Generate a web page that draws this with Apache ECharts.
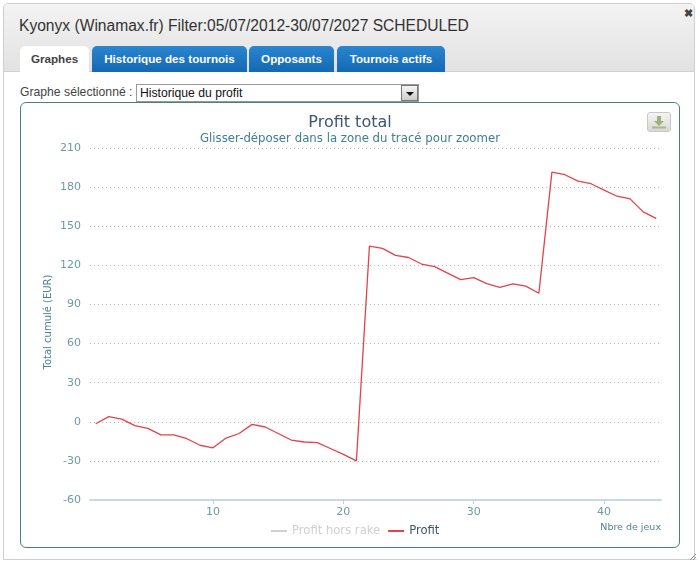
<!DOCTYPE html>
<html><head><meta charset="utf-8">
<script src="https://cdn.jsdelivr.net/npm/echarts@6/dist/echarts.min.js"></script>
<style>
html,body{margin:0;padding:0;background:#fff;width:700px;height:566px;overflow:hidden;font-family:"Liberation Sans",Arial,sans-serif}
.abs{position:absolute;box-sizing:border-box}
#dialog{left:3px;top:3px;width:692px;height:557px;border:1px solid #cfcfcf;border-radius:5px 5px 0 0;background:#fff}
#head{left:4px;top:4px;width:690px;height:68px;background:linear-gradient(#f3f3f3,#e2e2e2);border-bottom:1px solid #d2d2d2;border-radius:4px 4px 0 0}
#title{left:19px;top:16px;font-size:15.6px;color:#333;white-space:nowrap;line-height:19px}
.tab{top:46px;height:26px;border-radius:5px 5px 0 0;text-align:center;font-weight:bold;font-size:11.65px;line-height:26px;color:#fff;background:linear-gradient(#2a85cf,#1468b4);white-space:nowrap}
#t0{left:20px;width:69px;background:#fff;color:#444;height:27px}
#t1{left:92px;width:155px}#t2{left:249px;width:85px}#t3{left:337px;width:108px}
#lab{left:20px;top:85px;font-size:12.2px;color:#444;line-height:15px;white-space:nowrap}
#sel{left:136px;top:84px;width:283px;height:18px;border:1px solid #999;background:#fff;font-size:12.2px;line-height:16px;padding-left:3px;color:#111}
#arrow{left:401px;top:85px;width:17px;height:16px;border:1px solid #777;background:linear-gradient(#f4f4f4,#ccc)}
#arrow:after{content:"";position:absolute;left:4px;top:6px;border:4px solid transparent;border-top:4px solid #111}
#panel{left:20px;top:102px;width:660px;height:446px;border:1px solid #4a7f8a;border-radius:6px;background:#fff}
#chart{left:21px;top:103px;width:658px;height:444px}
#dl{left:647px;top:112px;width:24px;height:20px;border:1px solid #c8c8c8;border-radius:3px;background:linear-gradient(#f4f4f4,#d8d8d8)}
#x{left:684px;top:7px;font-size:11px;font-weight:bold;color:#444;line-height:13px}
</style></head><body>
<div class="abs" id="dialog"></div>
<div class="abs" id="head"></div>
<div class="abs" id="title">Kyonyx (Winamax.fr) Filter:05/07/2012-30/07/2027 SCHEDULED</div>
<div class="abs" id="x">✖</div>
<div class="abs tab" id="t0">Graphes</div>
<div class="abs tab" id="t1">Historique des tournois</div>
<div class="abs tab" id="t2">Opposants</div>
<div class="abs tab" id="t3">Tournois actifs</div>
<div class="abs" id="lab">Graphe sélectionné :</div>
<div class="abs" id="sel">Historique du profit</div>
<div class="abs" id="arrow"></div>
<div class="abs" id="panel"></div>
<div class="abs" id="chart"></div>
<div class="abs" id="dl"><svg width="22" height="18" viewBox="0 0 22 18"><path d="M9 3h4v5h3l-5 5-5-5h3z" fill="#9fb07f"/><rect x="4" y="13.5" width="14" height="2" fill="#a9b88c"/></svg></div>
<svg class="abs" style="left:689px;top:553px" width="8" height="8"><path d="M1 7L7 1M4 7L7 4M6.5 7L7 6.5" stroke="#888" stroke-width="1"/></svg>
<script>
var chartTitle = 'Profit total';
var chartSubtitle = 'Glisser-déposer dans la zone du tracé pour zoomer';
var xTicks = [10, 20, 30, 40];
var games = [1,2,3,4,5,6,7,8,9,10,11,12,13,14,15,16,17,18,19,20,21,22,23,24,25,26,27,28,29,30,31,32,33,34,35,36,37,38,39,40,41,42,43,44];
var profit = [-1.5,4,2,-3,-5,-10,-10,-13,-18,-20,-12.5,-9,-2,-4,-9,-14,-15.5,-16,-20.5,-25,-30,
  134.8,133,127.6,126,121,119,114,109,110.6,106,103,105.7,104,98.6,191.5,189.5,184.6,182.6,177.7,173,171,161,156];
var profitHorsRake = [];

var font = '"DejaVu Sans", sans-serif';
var pairs = games.map(function(g,i){return [g, profit[i]];});
var chart = echarts.init(document.getElementById('chart'), null, {renderer:'canvas'});
chart.setOption({
  animation:false,
  backgroundColor:'transparent',
  textStyle:{fontFamily:font},
  title:{text:chartTitle, subtext:chartSubtitle, left:'center', top:7, itemGap:2,
    textStyle:{fontSize:16,fontWeight:'normal',color:'#3e576f',fontFamily:font},
    subtextStyle:{fontSize:11.75,color:'#3f7f8f',fontFamily:font}},
  legend:{top:417, left:245, itemWidth:16, itemHeight:2, itemGap:8, icon:'rect',
    data:['Profit hors rake','Profit'], selected:{'Profit hors rake':false,'Profit':true},
    inactiveColor:'#d0d0d0', inactiveBorderColor:'#d0d0d0',
    textStyle:{fontSize:11.6,color:'#3e576f',fontFamily:font}},
  grid:{left:69,right:18,top:45,bottom:47},
  xAxis:{type:'value',min:0.56,max:44.37,
    name:'Nbre de jeux',nameLocation:'end',nameGap:0,nameMoveOverlap:false,
    nameTextStyle:{align:'right',verticalAlign:'top',padding:[23,0,0,0],fontSize:9.5,color:'#4d8595',fontFamily:font},
    axisLine:{show:true,onZero:false,lineStyle:{color:'#c8d8e4',width:2}},
    axisTick:{show:true,length:4,customValues:xTicks,lineStyle:{color:'#c0d0e0'}},
    axisLabel:{customValues:xTicks,margin:7,fontSize:11,color:'#6d9aa8',fontFamily:font},
    splitLine:{show:false}},
  yAxis:{type:'value',min:-60,max:210,interval:30,
    name:'Total cumulé (EUR)',nameLocation:'middle',nameGap:37,nameMoveOverlap:false,
    nameTextStyle:{fontSize:10,color:'#4d8595',fontFamily:font,padding:[0,0,0,4]},
    axisLine:{show:false},axisTick:{show:false},
    axisLabel:{margin:9,fontSize:11,color:'#6d9aa8',fontFamily:font},
    splitLine:{show:true,lineStyle:{type:[1,3],color:'#b8b8b8',width:1}}},
  series:[
    {name:'Profit hors rake',type:'line',data:profitHorsRake,symbol:'none',itemStyle:{color:'#d0d0d0'},lineStyle:{color:'#d0d0d0',width:1.3}},
    {name:'Profit',type:'line',data:pairs,symbol:'none',itemStyle:{color:'#e2424a'},lineStyle:{color:'#e2424a',width:1.3}}
  ]
});
</script>
</body></html>
